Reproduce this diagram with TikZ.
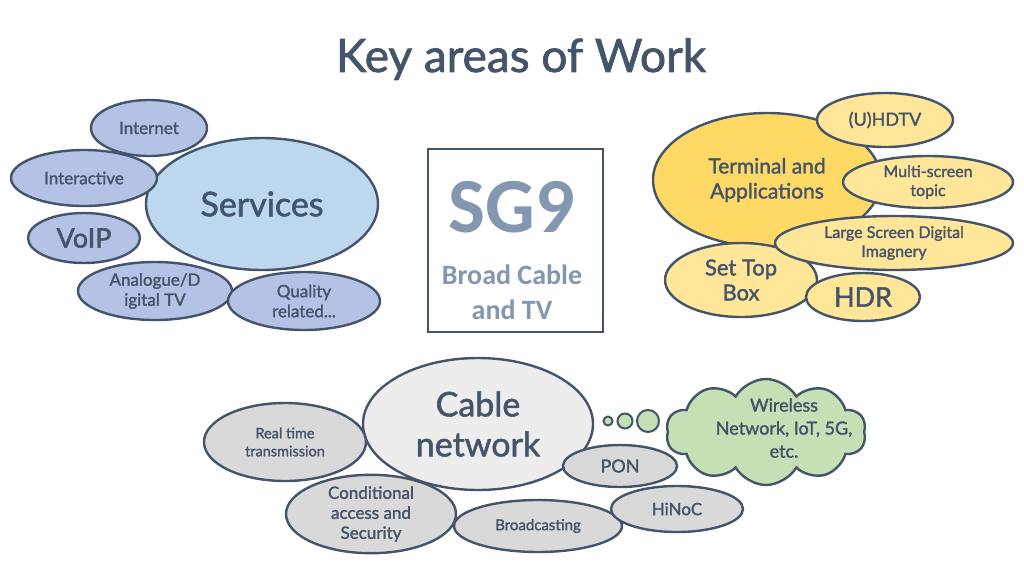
\documentclass[tikz,border=0pt]{standalone}
\usepackage{fontspec}
\setmainfont{Lato}[FakeBold=1.6]
\newfontfamily\boxfont{Carlito}
\usetikzlibrary{shapes.geometric,shapes.symbols}

\definecolor{ink}{HTML}{44546A}
\definecolor{boxtext}{HTML}{8497B0}
\definecolor{bluebig}{HTML}{BDD7EE}
\definecolor{bluesmall}{HTML}{B4C2E6}
\definecolor{goldbig}{HTML}{FFD966}
\definecolor{goldsmall}{HTML}{FFE699}
\definecolor{greybig}{HTML}{EDEDED}
\definecolor{greysmall}{HTML}{D9D9D9}
\definecolor{leaf}{HTML}{C5E0B4}

\newcommand{\fsz}[2]{\fontsize{#1}{#2}\selectfont}

\begin{document}
\begin{tikzpicture}[x=1pt, y=-1pt]
        \tikzstyle{area}=[ellipse, draw=ink, line width=2.4pt, text=ink, inner sep=0pt, align=center]
        \tikzstyle{dot}=[circle, draw=ink, line width=2pt, fill=leaf, inner sep=0pt]

        \useasboundingbox[fill=white] (0,0) rectangle (1024,576);

        \node[text=ink, font=\fsz{46}{50}] (title) at (521,59) {Key areas of Work};

        % services
        \node[area, fill=bluesmall, minimum width=116, minimum height=56, font=\fsz{17}{20}] (internet) at (149,128) {Internet};
        \node[area, fill=bluebig, minimum width=232, minimum height=132, font=\fsz{34}{40}] (services) at (262,204) {Services};
        \node[area, fill=bluesmall, minimum width=146, minimum height=56, font=\fsz{17}{20}] (interactive) at (84,178) {Interactive};
        \node[area, fill=bluesmall, minimum width=112, minimum height=50, font=\fsz{27}{30}] (voip) at (84,238) {VoIP};
        \node[area, fill=bluesmall, minimum width=154, minimum height=58, font=\fsz{17}{20}] (analogue) at (155,291) {Analogue/D\\igital TV};
        \node[area, fill=bluesmall, minimum width=152, minimum height=58, font=\fsz{17}{20}] (quality) at (304,301) {Quality\\related...};

        % SG9
        \node[draw=ink, line width=2.2pt, minimum width=175, minimum height=183] (sg) at (515.5,240.5) {};
        \node[text=boxtext, font=\boxfont\bfseries\fsz{78}{80}] (sgname) at (512,207) {SG9};
        \node[text=boxtext, font=\boxfont\bfseries\fsz{28}{35}, align=center] (sgtopic) at (512,292) {Broad Cable\\and TV};

        % terminals
        \node[area, fill=goldbig, minimum width=228, minimum height=134, font=\fsz{21}{25}] (terminal) at (767,180) {Terminal and\\Applications};
        \node[area, fill=goldsmall, minimum width=152, minimum height=74, font=\fsz{22}{25}] (stb) at (741,280) {Set Top\\Box};
        \node[area, fill=goldsmall, minimum width=114, minimum height=48, font=\fsz{27}{30}] (hdr) at (863,297) {HDR};
        \node[area, fill=goldsmall, minimum width=238, minimum height=54, font=\fsz{16}{19}] (large) at (894,243) {Large Screen Digital\\Imagnery};
        \node[area, fill=goldsmall, minimum width=170, minimum height=52, font=\fsz{16}{19}] (multi) at (928,182) {Multi-screen\\topic};
        \node[area, fill=goldsmall, minimum width=136, minimum height=54, font=\fsz{18}{21}] (uhdtv) at (885,120) {(U)HDTV};

        % cable network
        \node[area, fill=greybig, minimum width=230, minimum height=132, font=\fsz{34}{40}] (cable) at (478,424) {Cable\\network};
        \node[area, fill=greysmall, minimum width=162, minimum height=78, font=\fsz{14.5}{18}] (realtime) at (285,442) {Real time\\transmission};
        \node[area, fill=greysmall, minimum width=170, minimum height=76, font=\fsz{17}{20}] (conditional) at (371,514) {Conditional\\access and\\Security};
        \node[area, fill=greysmall, minimum width=168, minimum height=52, font=\fsz{15}{18}] (broadcasting) at (538,526) {Broadcasting};
        \node[area, fill=greysmall, minimum width=114, minimum height=42, font=\fsz{18}{21}] (pon) at (620,466) {PON};
        \node[area, fill=greysmall, minimum width=132, minimum height=46, font=\fsz{17}{20}] (hinoc) at (677,509) {HiNoC};

        % wireless
        \node[dot, minimum size=9] (b1) at (608,421) {};
        \node[dot, minimum size=15] (b2) at (625,421) {};
        \node[dot, minimum size=22] (b3) at (648,421) {};
        \node[cloud, cloud puffs=10, cloud puff arc=120, aspect=1.9, draw=ink, line width=2.4pt, fill=leaf, minimum width=200, minimum height=106, inner sep=0pt] (cloud) at (766,432) {};
        \node[text=ink, font=\fsz{18}{23}, align=center] (wireless) at (784,428) {Wireless\\Network, IoT, 5G,\\etc.};
\end{tikzpicture}
\end{document}
